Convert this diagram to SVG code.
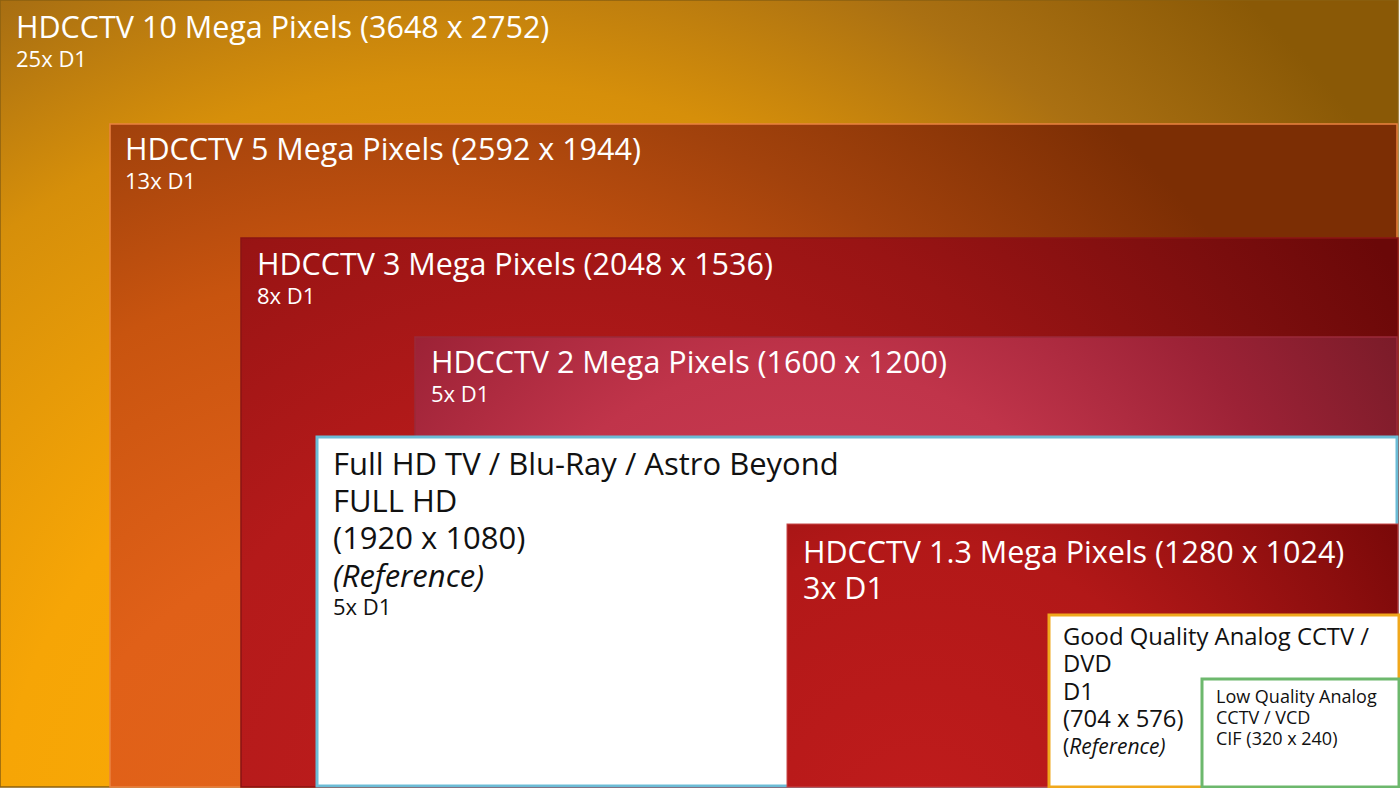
<svg xmlns="http://www.w3.org/2000/svg" width="1400" height="788" viewBox="0 0 1400 788">
<defs>
<radialGradient id="g1" gradientUnits="userSpaceOnUse" cx="460" cy="840" r="1150">
<stop offset="0" stop-color="#fdae04"/>
<stop offset="0.4" stop-color="#f6a506"/>
<stop offset="0.66" stop-color="#d68f0a"/>
<stop offset="0.82" stop-color="#aa7012"/>
<stop offset="1" stop-color="#8a5906"/>
</radialGradient>
<radialGradient id="g2" gradientUnits="userSpaceOnUse" cx="400" cy="900" r="1050">
<stop offset="0" stop-color="#e4661a"/>
<stop offset="0.35" stop-color="#e06018"/>
<stop offset="0.6" stop-color="#c8540f"/>
<stop offset="0.78" stop-color="#a2420c"/>
<stop offset="1" stop-color="#7c2e04"/>
</radialGradient>
<radialGradient id="g3" gradientUnits="userSpaceOnUse" cx="560" cy="820" r="1000">
<stop offset="0" stop-color="#c21e1e"/>
<stop offset="0.4" stop-color="#b41a1a"/>
<stop offset="0.65" stop-color="#991414"/>
<stop offset="0.85" stop-color="#7c0e0e"/>
<stop offset="1" stop-color="#6a0808"/>
</radialGradient>
<radialGradient id="g4" gradientUnits="userSpaceOnUse" cx="800" cy="700" r="800">
<stop offset="0" stop-color="#d24058"/>
<stop offset="0.42" stop-color="#c0344a"/>
<stop offset="0.66" stop-color="#9c2236"/>
<stop offset="0.85" stop-color="#7e1c2a"/>
<stop offset="1" stop-color="#6a1420"/>
</radialGradient>
<radialGradient id="g6" gradientUnits="userSpaceOnUse" cx="920" cy="830" r="640">
<stop offset="0" stop-color="#c01c1c"/>
<stop offset="0.45" stop-color="#b21818"/>
<stop offset="0.75" stop-color="#8c0e0e"/>
<stop offset="1" stop-color="#6a0404"/>
</radialGradient>
</defs>
<style>
text{font-family:"Open Sans","Noto Sans","DejaVu Sans",sans-serif}
.t{fill:#fff;font-size:30.5px}
.s{fill:#fff;font-size:22px}
.b{fill:#111;font-size:31px}
.bs{fill:#111;font-size:22px}
.m{fill:#111;font-size:23.8px}
.sm{fill:#111;font-size:18px}
.i{font-style:italic}
</style>

<g id="mp10">
<rect x="0" y="0" width="1398" height="787" fill="url(#g1)" stroke="#8a6010" stroke-width="1.5"/>
<text class="t" x="16" y="38">HDCCTV 10 Mega Pixels (3648 x 2752)</text>
<text class="s" x="16" y="67">25x D1</text>
</g>

<g id="mp5">
<rect x="110" y="124" width="1287" height="663" fill="url(#g2)" stroke="#ea8240" stroke-width="1.5"/>
<text class="t" x="125" y="160">HDCCTV 5 Mega Pixels (2592 x 1944)</text>
<text class="s" x="125" y="189">13x D1</text>
</g>

<g id="mp3">
<rect x="241" y="238" width="1157" height="549" fill="url(#g3)" stroke="#8a1414" stroke-width="1.5"/>
<text class="t" x="257" y="275">HDCCTV 3 Mega Pixels (2048 x 1536)</text>
<text class="s" x="257" y="304">8x D1</text>
</g>

<g id="mp2">
<rect x="415" y="337" width="982" height="450" fill="url(#g4)" stroke="#9a2a3a" stroke-width="1.5"/>
<text class="t" x="431" y="373">HDCCTV 2 Mega Pixels (1600 x 1200)</text>
<text class="s" x="431" y="402">5x D1</text>
</g>

<g id="fullhd">
<rect x="317" y="437" width="1080" height="349" fill="#fff" stroke="#6cbcd6" stroke-width="3"/>
<text class="b" x="333" y="475">Full HD TV / Blu-Ray / Astro Beyond</text>
<text class="b" x="333" y="512">FULL HD</text>
<text class="b" x="333" y="549">(1920 x 1080)</text>
<text class="b i" x="333" y="587">(Reference)</text>
<text class="bs" x="333" y="615">5x D1</text>
</g>

<g id="mp13">
<rect x="787" y="524" width="611" height="263" fill="url(#g6)" stroke="#c84848" stroke-width="1"/>
<text class="t" x="803" y="563">HDCCTV 1.3 Mega Pixels (1280 x 1024)</text>
<text class="t" x="803" y="599">3x D1</text>
</g>

<g id="d1">
<rect x="1049" y="615" width="350" height="172" fill="#fff" stroke="#f0a81c" stroke-width="3"/>
<text class="m" x="1063" y="645">Good Quality Analog CCTV /</text>
<text class="m" x="1063" y="672">DVD</text>
<text class="m" x="1063" y="700">D1</text>
<text class="m" x="1063" y="727">(704 x 576)</text>
<text class="m" x="1063" y="754" style="font-size:21px">(<tspan class="i">Reference)</tspan></text>
</g>

<g id="cif">
<rect x="1202" y="679" width="197" height="108" fill="#fff" stroke="#6db86d" stroke-width="3"/>
<text class="sm" x="1216" y="703">Low Quality Analog</text>
<text class="sm" x="1216" y="724">CCTV / VCD</text>
<text class="sm" x="1216" y="745">CIF (320 x 240)</text>
</g>

<g id="connectors"></g>
</svg>
